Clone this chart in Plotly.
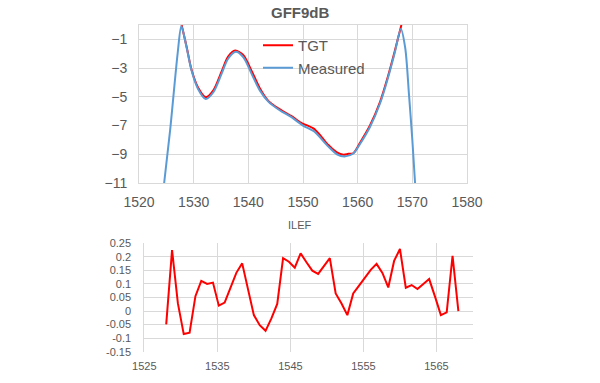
import plotly.graph_objects as go

# ---- Top chart: GFF9dB ----
tgt_wl = [1527.8, 1528.7, 1529.6, 1530.8, 1532.2, 1533.6, 1535.1, 1536.3, 1537.6,
          1539.1, 1540.6, 1542.1, 1543.7, 1545.8, 1547.9, 1549.5, 1550.5, 1551.9,
          1553.1, 1554.6, 1556.2, 1557.4, 1558.3, 1559.2, 1560.4, 1562.25, 1564.1,
          1565.6, 1566.8, 1568.0]
tgt_db = [0.0, -1.5, -3.1, -4.35, -5.03, -4.55, -3.25, -2.2, -1.78,
          -2.1, -3.2, -4.4, -5.3, -5.88, -6.35, -6.78, -6.95, -7.2,
          -7.65, -8.34, -8.87, -9.03, -8.97, -8.93, -8.22, -7.0, -5.35,
          -3.5, -1.8, 0.0]

meas_wl = [1524.6, 1525.7, 1527.07, 1527.75, 1528.7, 1529.6, 1530.8, 1532.2, 1533.6,
           1535.1, 1536.3, 1537.7, 1539.1, 1540.6, 1542.1, 1543.7, 1545.8, 1547.9,
           1550.0, 1552.0, 1554.6, 1556.2, 1557.6, 1559.2, 1560.4, 1562.25, 1564.1,
           1565.6, 1566.8, 1567.9, 1568.7, 1569.4, 1570.0, 1570.5]
meas_db = [-11.0, -7.3, -1.97, -0.07, -1.55, -3.15, -4.45, -5.15, -4.68,
           -3.4, -2.35, -1.87, -2.25, -3.4, -4.55, -5.35, -5.95, -6.42,
           -7.0, -7.4, -8.45, -9.0, -9.15, -8.95, -8.3, -7.1, -5.45,
           -3.6, -1.9, -0.28, -1.6, -4.9, -8.0, -11.0]

top_xticks = [1520, 1530, 1540, 1550, 1560, 1570, 1580]
top_yticks = [-11, -9, -7, -5, -3, -1]

# ---- Bottom chart: ILEF ----
ilef_wl = [1528.0 + 0.8 * i for i in range(51)]
ilef_val = [-0.049, 0.225, 0.028, -0.085, -0.080, 0.055, 0.111, 0.100, 0.105, 0.020,
            0.031, 0.084, 0.141, 0.176, 0.077, -0.015, -0.052, -0.073, -0.027, 0.026,
            0.195, 0.182, 0.160, 0.213, 0.180, 0.149, 0.137, 0.166, 0.195, 0.065,
            0.028, -0.015, 0.065, 0.094, 0.123, 0.152, 0.174, 0.141, 0.087, 0.185,
            0.229, 0.086, 0.096, 0.081, 0.100, 0.118, 0.053, -0.015, -0.005, 0.204,
            0.000]
bot_xticks = [1525, 1535, 1545, 1555, 1565]
bot_yticks = [-0.15, -0.1, -0.05, 0, 0.05, 0.1, 0.15, 0.2, 0.25]
bot_ylabels = ["-0.15", "-0.1", "-0.05", "0", "0.05", "0.1", "0.15", "0.2", "0.25"]

W, H = 600, 383
FONT = "Liberation Sans, Arial, sans-serif"
GRID = "#d9d9d9"
TXT = "#595959"

fig = go.Figure()
fig.add_trace(go.Scatter(x=tgt_wl, y=tgt_db, name="TGT", mode="lines",
                         line=dict(color="#ff0000", width=2, shape="spline", smoothing=0.8),
                         xaxis="x", yaxis="y"))
fig.add_trace(go.Scatter(x=meas_wl, y=meas_db, name="Measured", mode="lines",
                         line=dict(color="#5b9bd5", width=2, shape="spline", smoothing=0.8),
                         xaxis="x", yaxis="y"))
fig.add_trace(go.Scatter(x=ilef_wl, y=ilef_val, name="ILEF", mode="lines",
                         line=dict(color="#ff0000", width=2),
                         xaxis="x2", yaxis="y2", showlegend=False))

fig.update_layout(
    width=W, height=H, autosize=False,
    margin=dict(l=0, r=0, t=0, b=0, pad=0, autoexpand=False),
    paper_bgcolor="white", plot_bgcolor="white",
    font=dict(family=FONT, color=TXT),
    xaxis=dict(domain=[139 / W, 467 / W], range=[1520, 1580], tickvals=top_xticks,
               showgrid=True, gridcolor=GRID, gridwidth=1, zeroline=False,
               showline=True, linecolor=GRID, mirror=True, ticks="", automargin=False,
               tickfont=dict(size=14, color=TXT), anchor="y", ticklabelstandoff=6),
    yaxis=dict(domain=[1 - 183 / H, 1 - 25 / H], range=[-11, 0], tickvals=top_yticks,
               showgrid=True, gridcolor=GRID, gridwidth=1, zeroline=False,
               showline=True, linecolor=GRID, mirror=True, ticks="", automargin=False,
               tickfont=dict(size=14, color=TXT), anchor="x", ticklabelstandoff=8),
    xaxis2=dict(domain=[144.3 / W, 473 / W], range=[1525, 1570], tickvals=bot_xticks,
                showgrid=True, gridcolor=GRID, gridwidth=1, zeroline=False,
                showline=False, ticks="", automargin=False,
                tickfont=dict(size=11, color=TXT), anchor="y2", ticklabelstandoff=6),
    yaxis2=dict(domain=[1 - 351.7 / H, 1 - 243.3 / H], range=[-0.15, 0.25],
                tickvals=bot_yticks, ticktext=bot_ylabels,
                showgrid=True, gridcolor=GRID, gridwidth=1, zeroline=False,
                showline=True, linecolor=GRID, ticks="", automargin=False,
                tickfont=dict(size=11, color=TXT), anchor="x2", ticklabelstandoff=10),
    legend=dict(x=258 / W, y=1 - 29 / H, xanchor="left", yanchor="top",
                bgcolor="rgba(0,0,0,0)", font=dict(size=15, color=TXT),
                tracegroupgap=0, itemwidth=30),
    annotations=[
        dict(text="<b>GFF9dB</b>", x=0.5, y=1 - 12.5 / H, xref="paper", yref="paper",
             showarrow=False, font=dict(size=15, color=TXT), xanchor="center", yanchor="middle"),
        dict(text="ILEF", x=0.5, y=1 - 225 / H, xref="paper", yref="paper",
             showarrow=False, font=dict(size=11, color=TXT), xanchor="center", yanchor="middle"),
    ],
)

fig.write_html("out.html", config={"displayModeBar": False, "staticPlot": True},
               post_script="document.body.style.margin='0';document.body.style.overflow='hidden';")
